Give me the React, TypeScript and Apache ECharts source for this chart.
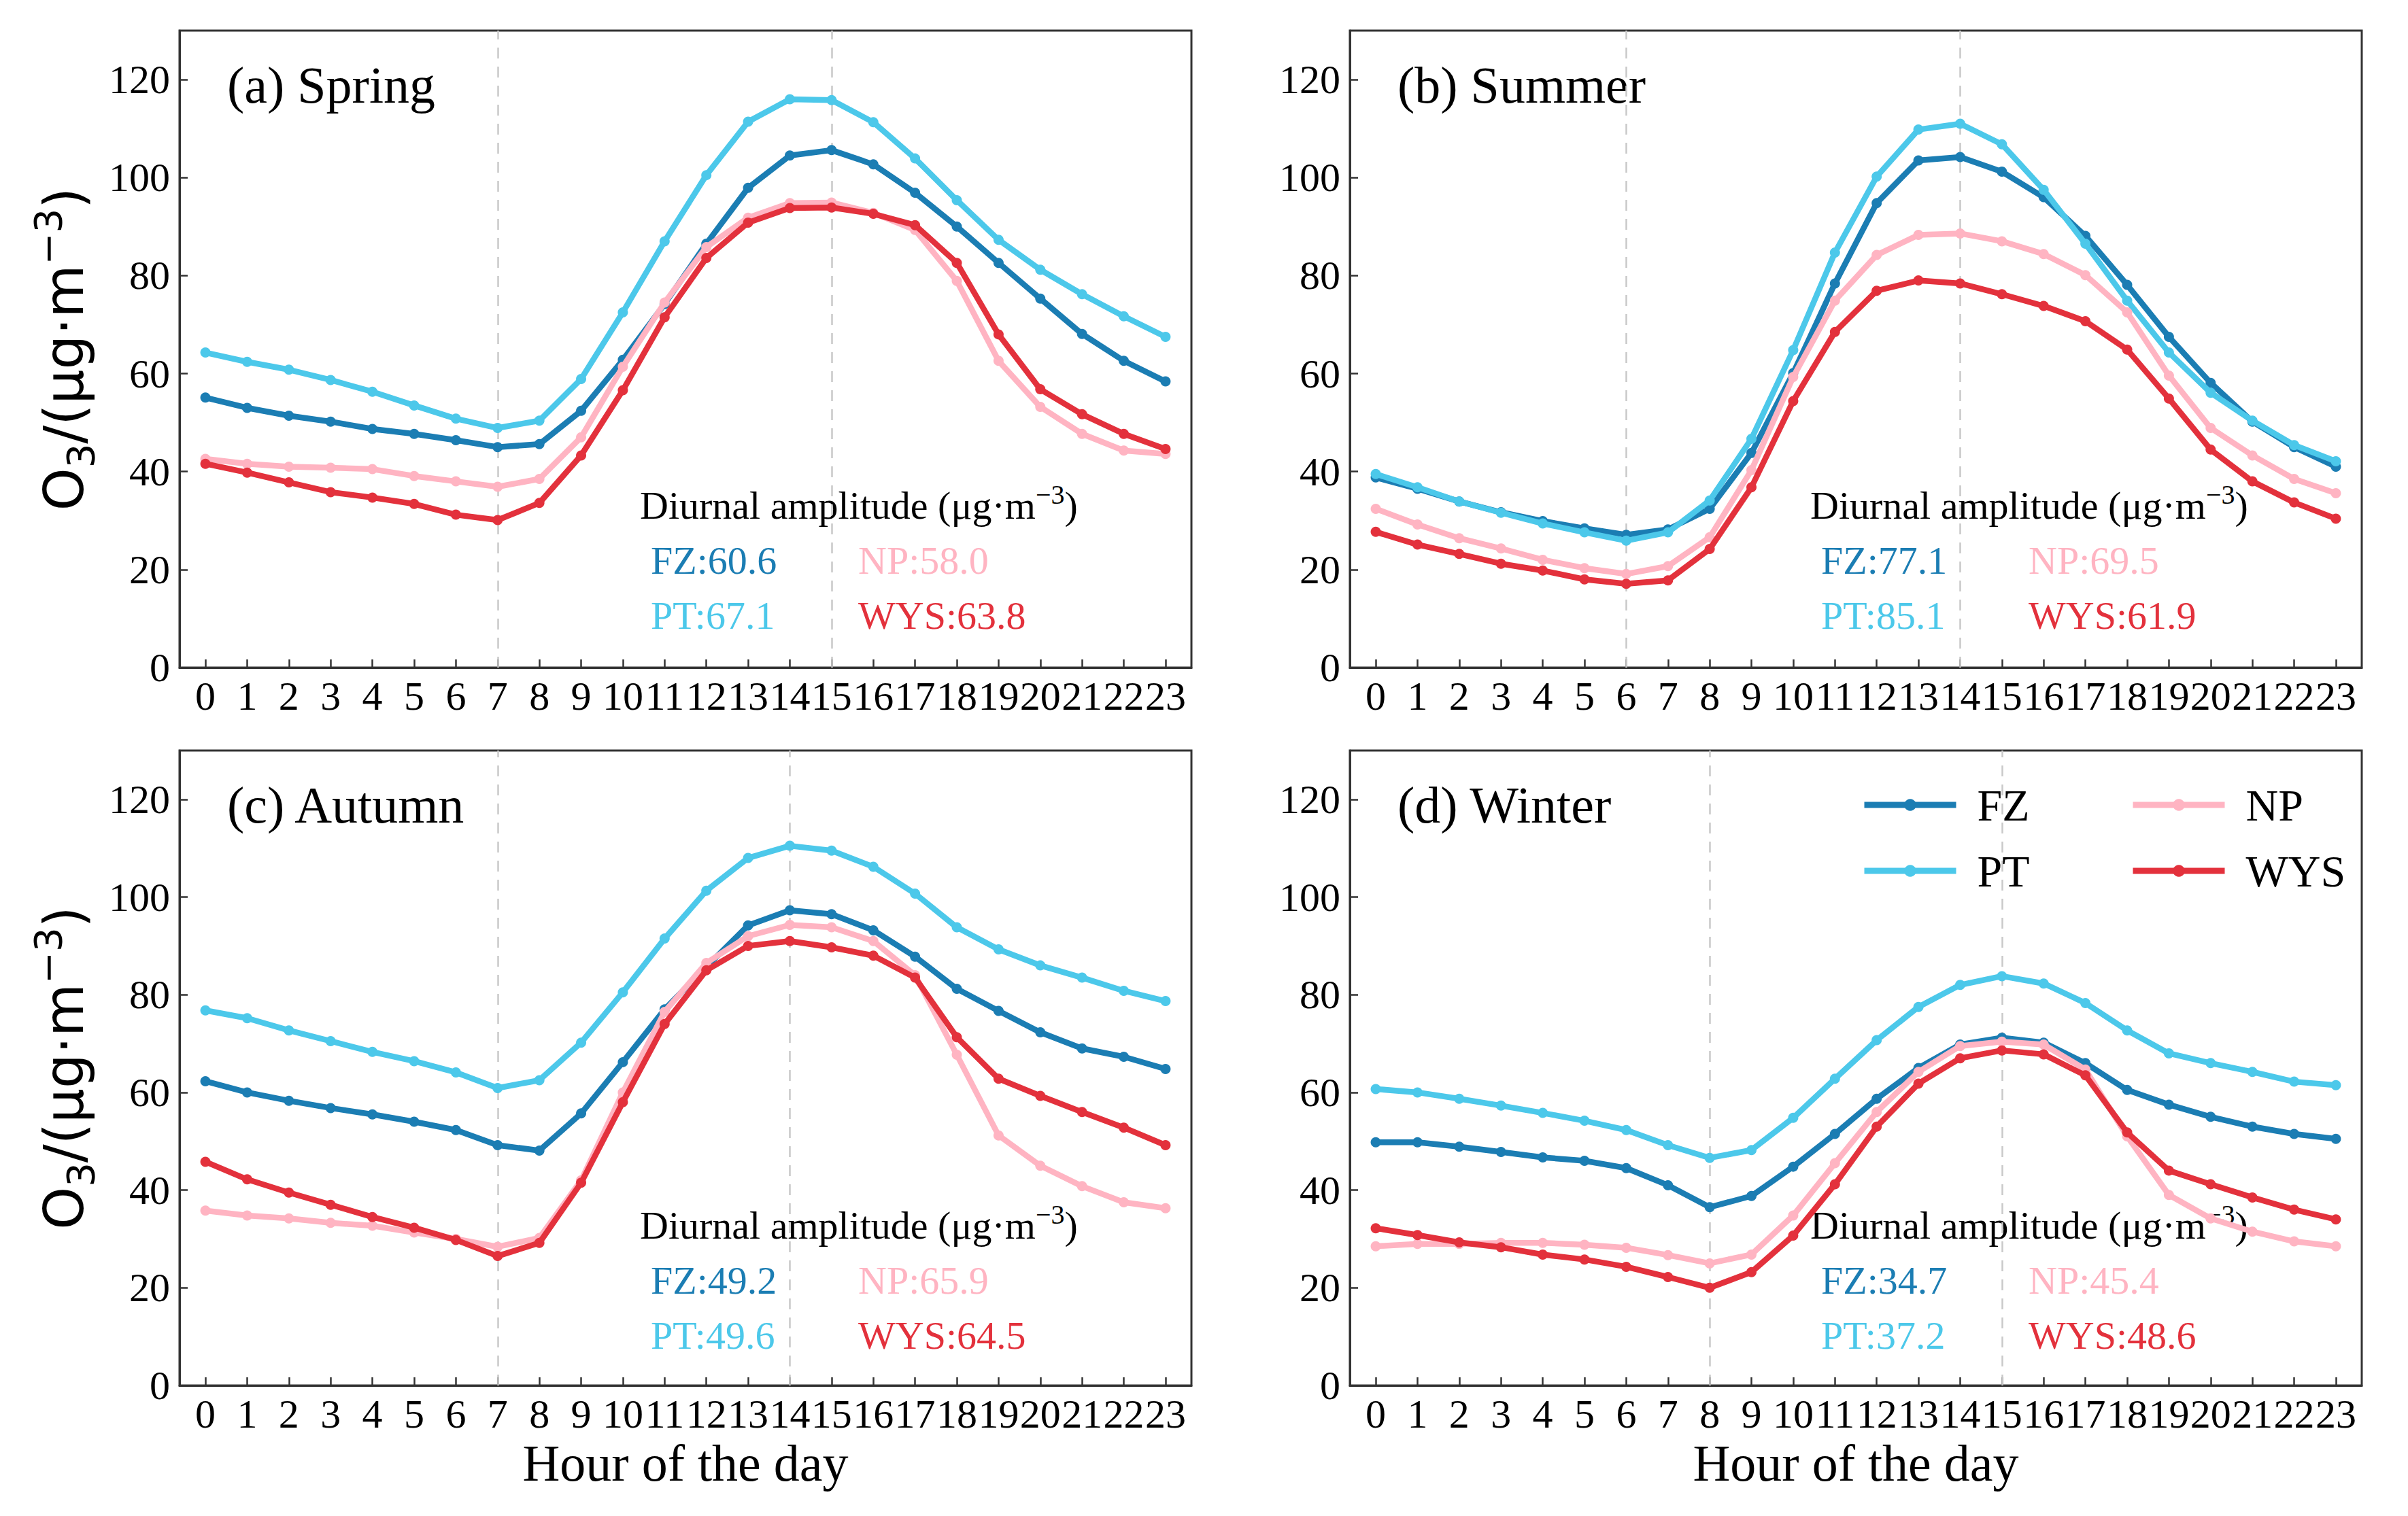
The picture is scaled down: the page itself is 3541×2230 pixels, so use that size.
import React, { useEffect, useRef } from 'react';
import * as echarts from 'echarts';

const hours = [0, 1, 2, 3, 4, 5, 6, 7, 8, 9, 10, 11, 12, 13, 14, 15, 16, 17, 18, 19, 20, 21, 22, 23];
const stations = ['FZ', 'PT', 'NP', 'WYS'];
const seasonTitles = ['(a) Spring', '(b) Summer', '(c) Autumn', '(d) Winter'];

// Spring
const springFZ = [55.1, 53.0, 51.4, 50.2, 48.7, 47.7, 46.4, 45.0, 45.6, 52.4, 62.8, 74.2, 86.5, 97.9, 104.5, 105.6, 102.7, 96.9, 90.0, 82.6, 75.3, 68.1, 62.6, 58.4];
const springPT = [64.3, 62.4, 60.8, 58.7, 56.3, 53.5, 50.8, 48.9, 50.4, 58.9, 72.5, 87.0, 100.5, 111.4, 116.0, 115.8, 111.3, 103.9, 95.4, 87.3, 81.2, 76.2, 71.7, 67.5];
const springNP = [42.6, 41.6, 41.0, 40.8, 40.5, 39.1, 38.0, 36.9, 38.5, 47.0, 61.4, 74.5, 85.8, 91.8, 94.8, 94.9, 92.8, 89.3, 78.9, 62.6, 53.2, 47.7, 44.3, 43.6];
const springWYS = [41.6, 39.8, 37.8, 35.8, 34.7, 33.4, 31.2, 30.1, 33.6, 43.3, 56.6, 71.5, 83.6, 90.8, 93.8, 93.9, 92.6, 90.3, 82.6, 68.0, 56.8, 51.7, 47.7, 44.6];
// Summer
const summerFZ = [38.8, 36.5, 33.9, 31.7, 29.9, 28.4, 27.1, 28.2, 32.4, 43.8, 60.1, 78.4, 94.8, 103.5, 104.2, 101.2, 96.0, 88.1, 78.1, 67.5, 58.1, 50.2, 45.0, 41.0];
const summerPT = [39.5, 36.8, 33.9, 31.6, 29.4, 27.6, 25.9, 27.6, 34.1, 46.7, 64.8, 84.7, 100.2, 109.8, 111.0, 106.8, 97.5, 86.5, 74.9, 64.3, 56.1, 50.4, 45.4, 42.1];
const summerNP = [32.4, 29.2, 26.4, 24.3, 22.0, 20.3, 19.1, 20.7, 26.6, 40.3, 59.3, 74.9, 84.2, 88.3, 88.6, 87.0, 84.4, 80.1, 72.5, 59.6, 48.9, 43.3, 38.5, 35.6];
const summerWYS = [27.7, 25.1, 23.2, 21.2, 19.8, 18.0, 17.1, 17.8, 24.2, 36.8, 54.4, 68.5, 76.9, 79.0, 78.4, 76.2, 73.8, 70.7, 64.9, 54.9, 44.5, 38.0, 33.7, 30.4];
// Autumn
const autumnFZ = [62.3, 60.0, 58.3, 56.8, 55.5, 54.0, 52.3, 49.2, 48.1, 55.7, 66.2, 77.0, 85.7, 94.2, 97.3, 96.5, 93.2, 87.8, 81.2, 76.7, 72.3, 69.0, 67.3, 64.8];
const autumnPT = [76.8, 75.2, 72.7, 70.5, 68.3, 66.4, 64.1, 60.9, 62.5, 70.2, 80.5, 91.5, 101.3, 108.0, 110.5, 109.5, 106.2, 100.7, 93.8, 89.3, 86.0, 83.5, 80.8, 78.7];
const autumnNP = [35.8, 34.8, 34.2, 33.3, 32.7, 31.3, 30.0, 28.4, 30.2, 42.0, 60.0, 76.5, 86.5, 92.0, 94.3, 93.8, 91.0, 84.0, 67.7, 51.2, 45.0, 40.8, 37.5, 36.3];
const autumnWYS = [45.8, 42.2, 39.5, 37.0, 34.5, 32.3, 29.8, 26.5, 29.2, 41.5, 58.0, 74.0, 85.0, 90.0, 91.0, 89.7, 88.0, 83.5, 71.3, 62.8, 59.3, 56.0, 52.8, 49.2];
// Winter
const winterFZ = [49.8, 49.8, 48.9, 47.8, 46.7, 46.0, 44.5, 41.0, 36.5, 38.8, 44.8, 51.5, 58.7, 65.0, 69.8, 71.2, 70.2, 66.0, 60.5, 57.5, 55.0, 53.0, 51.5, 50.5];
const winterPT = [60.7, 60.0, 58.7, 57.3, 55.8, 54.2, 52.3, 49.2, 46.6, 48.2, 54.8, 62.8, 70.7, 77.5, 82.0, 83.8, 82.3, 78.3, 72.7, 68.0, 66.0, 64.2, 62.2, 61.5];
const winterNP = [28.5, 29.0, 29.0, 29.2, 29.2, 28.8, 28.2, 26.7, 25.0, 26.8, 34.8, 45.5, 56.0, 64.2, 69.5, 70.4, 69.8, 64.7, 51.0, 39.0, 34.2, 31.5, 29.5, 28.5];
const winterWYS = [32.2, 30.8, 29.3, 28.3, 26.8, 25.8, 24.3, 22.2, 20.0, 23.2, 30.7, 41.2, 53.0, 61.8, 67.0, 68.6, 67.8, 63.5, 51.8, 44.0, 41.2, 38.5, 36.0, 34.0];

const seasonData = [
  [springFZ, springPT, springNP, springWYS],
  [summerFZ, summerPT, summerNP, summerWYS],
  [autumnFZ, autumnPT, autumnNP, autumnWYS],
  [winterFZ, winterPT, winterNP, winterWYS],
];

// Diurnal amplitudes [FZ, PT, NP, WYS]
const amplitudes = [
  ['60.6', '67.1', '58.0', '63.8'],
  ['77.1', '85.1', '69.5', '61.9'],
  ['49.2', '49.6', '65.9', '64.5'],
  ['34.7', '37.2', '45.4', '48.6'],
];

// dashed reference lines (hour of minimum, hour of peak)
const minHours = [7, 6, 7, 8];
const peakHours = [15, 14, 14, 15];

const yTicks = [0, 20, 40, 60, 80, 100, 120];

const colors: Record<string, string> = {
  FZ: '#1b7db3',
  PT: '#4cc8ea',
  NP: '#ffb4c2',
  WYS: '#e3313c',
};

const SERIF = "'Liberation Serif', 'Times New Roman', serif";

const grids = [
  { left: 264, top: 45, width: 1488, height: 937 },
  { left: 1985, top: 45, width: 1488, height: 937 },
  { left: 264, top: 1104, width: 1488, height: 934 },
  { left: 1985, top: 1104, width: 1488, height: 934 },
];

function buildOption() {
  const axisColor = '#333333';
  const xAxis: any[] = [];
  const yAxis: any[] = [];
  const series: any[] = [];
  const graphic: any[] = [];

  grids.forEach((g, i) => {
    const bottomRow = i >= 2;
    const leftCol = i % 2 === 0;
    xAxis.push({
      type: 'value',
      gridIndex: i,
      min: -0.62,
      max: 23.62,
      name: bottomRow ? 'Hour of the day' : '',
      nameLocation: 'middle',
      nameGap: 76,
      nameTextStyle: { fontFamily: SERIF, fontSize: 76, color: '#000' },
      axisLine: { show: true, onZero: false, lineStyle: { color: axisColor, width: 3 } },
      axisTick: { show: true, inside: true, length: 12, customValues: hours, lineStyle: { color: axisColor, width: 2.5 } },
      axisLabel: { customValues: hours, fontFamily: SERIF, fontSize: 60, color: '#000', margin: 12 },
      splitLine: { show: false },
    });
    yAxis.push({
      type: 'value',
      gridIndex: i,
      min: 0,
      max: 130,
      interval: 20,
      name: leftCol ? '{o|O}{sub|3}{o|/(μg·m}{sup|−3}{o|)}' : '',
      nameLocation: 'middle',
      nameRotate: 90,
      nameGap: 118,
      nameTextStyle: {
        fontFamily: 'DejaVu Sans',
        color: '#000',
        rich: {
          o: { fontFamily: 'DejaVu Sans', fontSize: 80, lineHeight: 104, color: '#000' },
          sub: { fontFamily: 'DejaVu Sans', fontSize: 56, lineHeight: 64, verticalAlign: 'bottom', color: '#000' },
          sup: { fontFamily: 'DejaVu Sans', fontSize: 56, lineHeight: 56, verticalAlign: 'top', color: '#000' },
        },
      },
      axisLine: { show: true, onZero: false, lineStyle: { color: axisColor, width: 3 } },
      axisTick: { show: true, inside: true, length: 12, customValues: yTicks, lineStyle: { color: axisColor, width: 2.5 } },
      axisLabel: { customValues: yTicks, fontFamily: SERIF, fontSize: 60, color: '#000', margin: 14 },
      splitLine: { show: false },
    });

    stations.forEach((st, k) => {
      const vals = seasonData[i][k];
      const s: any = {
        name: st,
        type: 'line',
        xAxisIndex: i,
        yAxisIndex: i,
        data: vals.map((v, h) => [hours[h], v]),
        symbol: 'circle',
        symbolSize: 15,
        showSymbol: true,
        color: colors[st],
        lineStyle: { width: 8.5, color: colors[st] },
        itemStyle: { color: colors[st] },
        z: 3 + k,
      };
      if (k === 0) {
        s.markLine = {
          silent: true,
          symbol: ['none', 'none'],
          label: { show: false },
          z: 1,
          lineStyle: { type: [16, 12], color: '#c9c9c9', width: 2.5 },
          data: [{ xAxis: minHours[i] }, { xAxis: peakHours[i] }],
        };
      }
      series.push(s);
    });

    // panel title
    graphic.push({
      type: 'text',
      left: g.left + 70,
      top: g.top + 42,
      style: { text: seasonTitles[i], font: `76px ${SERIF}`, fill: '#000' },
    });
    // amplitude annotation
    const ax = g.left + 677;
    graphic.push({
      type: 'text',
      left: ax,
      top: g.top + 662,
      style: {
        text: '{a|Diurnal amplitude (μg·m}{s|−3}{a|)}',
        rich: {
          a: { fontFamily: SERIF, fontSize: 58, lineHeight: 72, fill: '#000' },
          s: { fontFamily: SERIF, fontSize: 40, lineHeight: 40, verticalAlign: 'top', fill: '#000' },
        },
      },
    });
    const amp = amplitudes[i];
    const rows = [
      { text: `FZ:${amp[0]}`, x: ax + 16, y: g.top + 750, c: colors.FZ },
      { text: `NP:${amp[2]}`, x: ax + 321, y: g.top + 750, c: colors.NP },
      { text: `PT:${amp[1]}`, x: ax + 16, y: g.top + 831, c: colors.PT },
      { text: `WYS:${amp[3]}`, x: ax + 321, y: g.top + 831, c: colors.WYS },
    ];
    rows.forEach((r) => {
      graphic.push({
        type: 'text',
        left: r.x,
        top: r.y,
        style: { text: r.text, font: `58px ${SERIF}`, fill: r.c },
      });
    });
  });

  const legendCommon = {
    orient: 'vertical',
    itemWidth: 135,
    itemHeight: 22,
    itemGap: 31,
    lineStyle: { width: 9 },
    textStyle: { fontFamily: SERIF, fontSize: 66, color: '#000', lineHeight: 66, padding: [0, 0, 0, 26] },
  };

  return {
    animation: false,
    backgroundColor: '#ffffff',
    grid: grids.map((g) => ({ ...g, show: true, borderColor: '#333333', borderWidth: 3, backgroundColor: 'transparent', containLabel: false })),
    xAxis,
    yAxis,
    legend: [
      { ...legendCommon, left: 2732, top: 1146, data: ['FZ', 'PT'] },
      { ...legendCommon, left: 3127, top: 1146, data: ['NP', 'WYS'] },
    ],
    series,
    graphic,
  };
}

export default function App() {
  const ref = useRef<HTMLDivElement>(null);
  useEffect(() => {
    if (!ref.current) return;
    const chart = echarts.init(ref.current, undefined, { renderer: 'svg' });
    chart.setOption(buildOption() as any);
    return () => chart.dispose();
  }, []);
  return (
    <div
      ref={ref}
      style={{ position: 'fixed', left: 0, top: 0, width: 3541, height: 2230, background: '#fff' }}
    />
  );
}
